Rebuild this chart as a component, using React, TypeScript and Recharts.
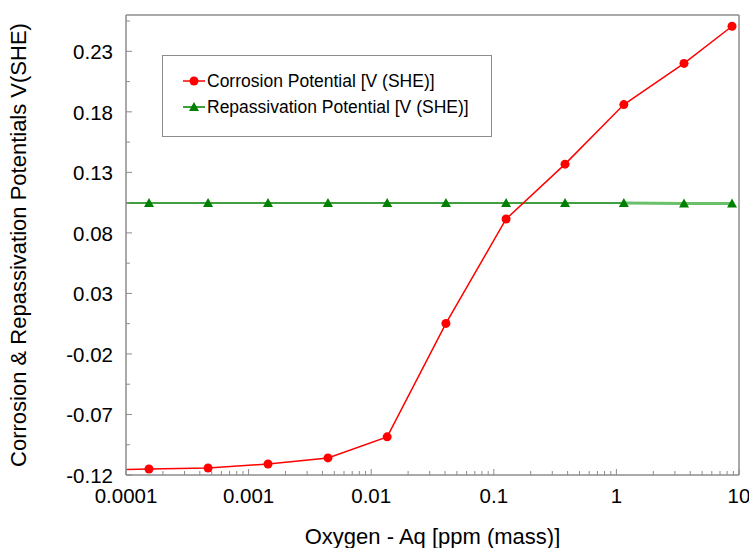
import React from 'react';
import { LineChart, Line, XAxis, YAxis, Legend } from 'recharts';

// oxygen concentration, ppm (mass); the first entry is where the curves start at the axis
const oxygenPpm = [0.0001, 0.000154, 0.000467, 0.00144, 0.00444, 0.0135, 0.0407, 0.126, 0.381, 1.15, 3.56, 8.77];
const corrosionPotential = [-0.1155, -0.115, -0.1142, -0.1109, -0.1059, -0.0885, 0.0052, 0.0915, 0.1368, 0.186, 0.22, 0.2507];
const repassivationPotential = [0.1047, 0.1047, 0.1047, 0.1047, 0.1047, 0.1047, 0.1047, 0.1047, 0.1047, 0.1047, 0.1043, 0.1043];
// the repassivation line is drawn lighter from this point on
const lightFrom = 9;

const xTicks = [0.0001, 0.001, 0.01, 0.1, 1, 10];
const xMinorTicks = [0.0001, 0.001, 0.01, 0.1, 1].flatMap((d) => [2, 3, 4, 5, 6, 7, 8, 9].map((m) => d * m));
const yTicks = [-0.12, -0.07, -0.02, 0.03, 0.08, 0.13, 0.18, 0.23];
const yMinorTicks = [-0.095, -0.045, 0.005, 0.055, 0.105, 0.155, 0.205, 0.255];

const data = oxygenPpm.map((x, i) => ({
  x,
  corrosion: corrosionPotential[i],
  repass: i <= lightFrom ? repassivationPotential[i] : null,
  repassTail: i >= lightFrom ? repassivationPotential[i] : null,
}));

const FONT = '"Liberation Sans", Arial, Helvetica, sans-serif';
const frame = '#8c8c8c';
const red = '#ff0000';
const green = '#008000';

const triangle = (cx: number, cy: number, s: number) =>
  `M${cx},${cy - s} L${cx + s},${cy + s * 0.8} L${cx - s},${cy + s * 0.8} Z`;

const RedDot = (props: any) => {
  const { cx, cy, index } = props;
  if (index === 0 || cx == null || cy == null) return <g key={`r${index}`} />;
  return <circle key={`r${index}`} cx={cx} cy={cy} r={4.5} fill={red} />;
};

const GreenDot = (props: any) => {
  const { cx, cy, index, value } = props;
  if (index === 0 || cx == null || cy == null || value == null) return <g key={`g${index}`} />;
  return <path key={`g${index}`} d={triangle(cx, cy, 5)} fill={green} />;
};

const TailDot = (props: any) => {
  const { cx, cy, index, value } = props;
  if (index <= lightFrom || cx == null || cy == null || value == null) return <g key={`t${index}`} />;
  return <path key={`t${index}`} d={triangle(cx, cy, 5)} fill={green} />;
};

const XTick = (props: any) => {
  const { x, y, payload } = props;
  const major = xTicks.includes(payload.value);
  return (
    <g>
      <line x1={x} y1={y} x2={x} y2={y - (major ? 6 : 4)} stroke={frame} />
      {major && (
        <text x={x} y={y + 28} textAnchor="middle" fontSize={20.5} fontFamily={FONT} fill="#000">
          {String(payload.value)}
        </text>
      )}
    </g>
  );
};

const YTick = (props: any) => {
  const { x, y, payload } = props;
  const major = yTicks.includes(payload.value);
  return (
    <g>
      <line x1={x} y1={y} x2={x + (major ? 6 : 4)} y2={y} stroke={frame} />
      {major && (
        <text x={x - 13} y={y + 8} textAnchor="end" fontSize={20.5} fontFamily={FONT} fill="#000">
          {payload.value.toFixed(2)}
        </text>
      )}
    </g>
  );
};

const YLabel = (props: any) => {
  const vb = props.viewBox;
  const cy = vb.y + vb.height / 2;
  return (
    <text x={18} y={cy} transform={`rotate(-90, 18, ${cy})`} textAnchor="middle" dominantBaseline="central"
      fontSize={22} fontFamily={FONT} fill="#000">
      Corrosion &amp; Repassivation Potentials V(SHE)
    </text>
  );
};

const renderLegend = (props: any) => {
  const items = (props.payload || []).filter((p: any) => p.type !== 'none');
  return (
    <div style={{ padding: '12px 0 0 20px' }}>
      {items.map((item: any) => {
        const isRed = item.dataKey === 'corrosion';
        return (
          <div key={item.dataKey} style={{ display: 'flex', alignItems: 'center', height: 26 }}>
            <svg width={22} height={14} style={{ marginRight: 2 }}>
              <line x1={0} y1={7} x2={22} y2={7} stroke={isRed ? red : green} strokeWidth={1.5} />
              {isRed ? <circle cx={11} cy={7} r={4.5} fill={red} /> : <path d={triangle(11, 7, 5)} fill={green} />}
            </svg>
            <span style={{ fontFamily: FONT, fontSize: 17.5, color: '#000', whiteSpace: 'nowrap' }}>{item.value}</span>
          </div>
        );
      })}
    </div>
  );
};

export default function App() {
  return (
    <div style={{ position: 'absolute', left: 0, top: 0, width: 749, height: 548, background: '#fff' }}>
      <LineChart width={749} height={548} data={data} margin={{ top: 14, right: 9, left: 0, bottom: 0 }}>
        <XAxis xAxisId="main" dataKey="x" type="number" scale="log" domain={[0.0001, 10]} allowDataOverflow
          ticks={[...xTicks, ...xMinorTicks]} interval={0} tick={<XTick />} tickLine={false} tickSize={0} tickMargin={0}
          height={73} axisLine={{ stroke: frame, strokeWidth: 1.5 }}
          label={{ value: 'Oxygen - Aq [ppm (mass)]', position: 'insideBottom', offset: 4, fontSize: 22, fontFamily: FONT, fill: '#000' }} />
        <XAxis xAxisId="top" orientation="top" dataKey="x" type="number" scale="log" domain={[0.0001, 10]} allowDataOverflow
          tick={false} tickLine={false} height={1} axisLine={{ stroke: frame, strokeWidth: 1.5 }} />
        <YAxis yAxisId="main" type="number" domain={[-0.12, 0.26]} allowDataOverflow
          ticks={[...yTicks, ...yMinorTicks]} interval={0} tick={<YTick />} tickLine={false} tickSize={0} tickMargin={0}
          width={126} axisLine={{ stroke: frame, strokeWidth: 1.5 }} label={YLabel} />
        <YAxis yAxisId="right" orientation="right" type="number" domain={[-0.12, 0.26]} allowDataOverflow
          tick={false} tickLine={false} width={1} axisLine={{ stroke: frame, strokeWidth: 1.5 }} />
        <Legend layout="vertical" align="center" verticalAlign="middle" content={renderLegend}
          wrapperStyle={{ left: 162, top: 55, width: 330, height: 82, border: `1.5px solid ${frame}`, background: '#fff', boxSizing: 'border-box' }} />
        <Line xAxisId="main" yAxisId="main" type="linear" dataKey="repassTail" legendType="none" stroke="#6abf6a" strokeWidth={3}
          dot={<TailDot />} activeDot={false} isAnimationActive={false} connectNulls={false} />
        <Line xAxisId="main" yAxisId="main" type="linear" dataKey="repass" name="Repassivation Potential [V (SHE)]" stroke={green}
          strokeWidth={1.5} dot={<GreenDot />} activeDot={false} isAnimationActive={false} />
        <Line xAxisId="main" yAxisId="main" type="linear" dataKey="corrosion" name="Corrosion Potential [V (SHE)]" stroke={red}
          strokeWidth={1.5} dot={<RedDot />} activeDot={false} isAnimationActive={false} />
      </LineChart>
    </div>
  );
}
